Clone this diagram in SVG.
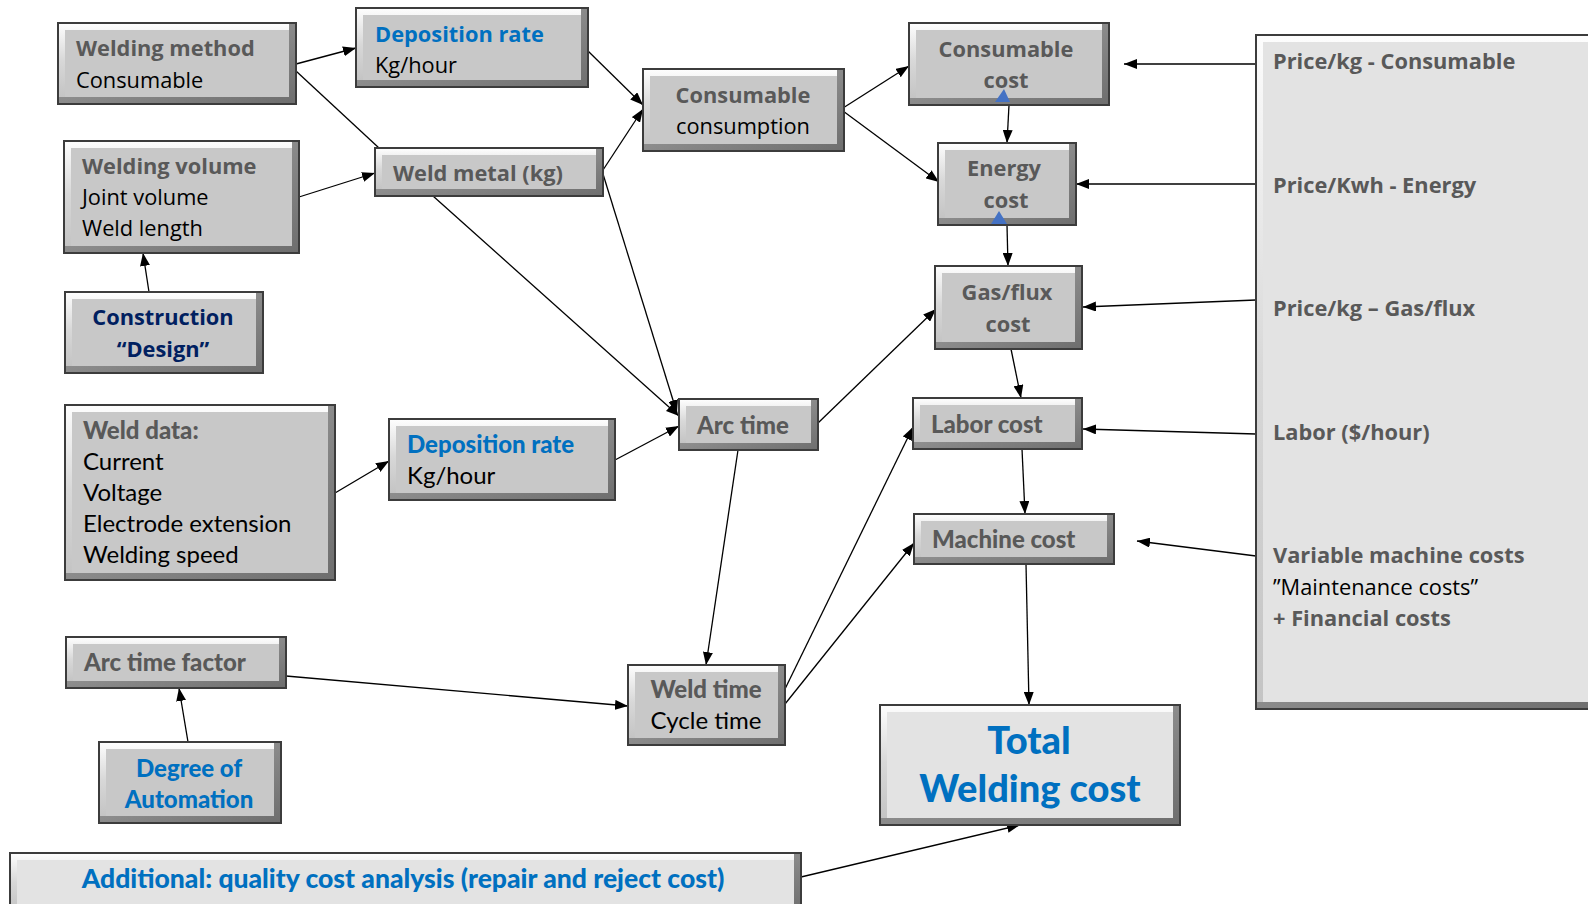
<svg xmlns="http://www.w3.org/2000/svg" width="1588" height="904" viewBox="0 0 1588 904">
<defs>
<style>
.o{fill:url(#gd);stroke:#3c3c3c;stroke-width:2}
.l{fill:url(#gl)}
.f{fill:#c8c8c8}
.fl{fill:#e3e3e3}
.os{font-family:"Open Sans","DejaVu Sans",sans-serif;font-size:21.8px}
.la{font-family:Lato,"Liberation Sans",sans-serif;font-size:24px}
.b{font-weight:bold;fill:#595959}
.la.b,.la.bl{font-weight:900}
.r{fill:#000}
.bl{font-weight:bold;fill:#0070c0}
.nv{font-weight:bold;fill:#002060}
.c{text-anchor:middle}
.cn line{stroke:#000;stroke-width:1.3;marker-end:url(#ah)}
.cn line.na{marker-end:none}
.tri{fill:#4472c4}
</style>
<linearGradient id="gl" x1="0" y1="0" x2="0" y2="1"><stop offset="0" stop-color="#fdfdfd"/><stop offset="0.5" stop-color="#d8d8d8"/><stop offset="1" stop-color="#c4c4c4"/></linearGradient>
<linearGradient id="gd" x1="0" y1="0" x2="1" y2="1"><stop offset="0" stop-color="#a8a8a8"/><stop offset="1" stop-color="#6e6e6e"/></linearGradient>
<marker id="ah" viewBox="0 0 13 10" refX="13" refY="5" markerWidth="13" markerHeight="10" markerUnits="userSpaceOnUse" orient="auto"><path d="M0,0 L13,5 L0,10 z" fill="#000"/></marker>
</defs>
<rect width="1588" height="904" fill="#fff"/>

<g id="connectors" class="cn">
<line x1="296" y1="64" x2="356" y2="48"/>
<line class="na" x1="296" y1="71" x2="379" y2="148"/>
<line x1="299" y1="197" x2="375" y2="173"/>
<line x1="588" y1="51" x2="643" y2="105"/>
<line x1="603" y1="170" x2="643" y2="109"/>
<line x1="433" y1="196" x2="679" y2="416"/>
<line x1="603" y1="174" x2="677" y2="413"/>
<line x1="615" y1="460" x2="679" y2="426"/>
<line x1="335" y1="493" x2="389" y2="461"/>
<line x1="149" y1="292" x2="143" y2="253"/>
<line x1="188" y1="742" x2="179" y2="688"/>
<line x1="286" y1="676" x2="628" y2="706"/>
<line x1="738" y1="450" x2="706" y2="665"/>
<line x1="818" y1="423" x2="936" y2="309"/>
<line x1="843" y1="108" x2="909" y2="66"/>
<line x1="843" y1="111" x2="939" y2="182"/>
<line x1="1009" y1="105" x2="1007" y2="143"/>
<line x1="1007" y1="225" x2="1008" y2="266"/>
<line x1="1011" y1="349" x2="1021" y2="398"/>
<line x1="1022" y1="449" x2="1025" y2="514"/>
<line x1="1026" y1="564" x2="1029" y2="705"/>
<line x1="785" y1="689" x2="913" y2="427"/>
<line x1="785" y1="704" x2="914" y2="543"/>
<line x1="801" y1="877" x2="1020" y2="825"/>
<line x1="1255" y1="64" x2="1124" y2="64"/>
<line x1="1255" y1="184" x2="1076" y2="184"/>
<line x1="1256" y1="300" x2="1083" y2="307"/>
<line x1="1256" y1="434" x2="1083" y2="429"/>
<line x1="1256" y1="556" x2="1137" y2="541"/>
</g>

<g id="n_weld_method"><rect class="o" x="58" y="23" width="238" height="81"/><rect class="l" x="59" y="24" width="230" height="73"/><rect class="f" x="65" y="30" width="224" height="67"/>
<text class="os b" x="76" y="56">Welding method</text><text class="os r" x="76" y="88">Consumable</text></g>

<g id="n_dep_top"><rect class="o" x="356" y="8" width="232" height="79"/><rect class="l" x="357" y="9" width="224" height="71"/><rect class="f" x="363" y="15" width="218" height="65"/>
<text class="os bl" x="375" y="42">Deposition rate</text><text class="os r" x="375" y="73">Kg/hour</text></g>

<g id="n_cons_cons"><rect class="o" x="643" y="69" width="201" height="82"/><rect class="l" x="644" y="70" width="193" height="74"/><rect class="f" x="650" y="76" width="187" height="68"/>
<text class="os b c" x="743" y="103">Consumable</text><text class="os r c" x="743" y="134">consumption</text></g>

<g id="n_cons_cost"><rect class="o" x="909" y="23" width="200" height="82"/><rect class="l" x="910" y="24" width="192" height="74"/><rect class="f" x="916" y="30" width="186" height="68"/>
<text class="os b c" x="1006" y="57">Consumable</text><text class="os b c" x="1006" y="88">cost</text>
<polygon class="tri" points="1004,89 995,102 1010,102"/></g>

<g id="n_energy"><rect class="o" x="938" y="143" width="138" height="82"/><rect class="l" x="939" y="144" width="130" height="74"/><rect class="f" x="945" y="150" width="124" height="68"/>
<text class="os b c" x="1004" y="176">Energy</text><text class="os b c" x="1006" y="208">cost</text>
<polygon class="tri" points="999,211 991,224 1007,224"/></g>

<g id="n_gas"><rect class="o" x="935" y="266" width="147" height="83"/><rect class="l" x="936" y="267" width="139" height="75"/><rect class="f" x="942" y="273" width="133" height="69"/>
<text class="os b c" x="1007" y="300">Gas/flux</text><text class="os b c" x="1008" y="332">cost</text></g>

<g id="n_labor"><rect class="o" x="913" y="398" width="169" height="51"/><rect class="l" x="914" y="399" width="161" height="43"/><rect class="f" x="920" y="405" width="155" height="37"/>
<text class="la b" x="931" y="433">Labor cost</text></g>

<g id="n_machine"><rect class="o" x="914" y="514" width="200" height="50"/><rect class="l" x="915" y="515" width="192" height="42"/><rect class="f" x="921" y="521" width="186" height="36"/>
<text class="la b" x="932" y="548">Machine cost</text></g>

<g id="n_total"><rect class="o" x="880" y="705" width="300" height="120"/><rect class="l" x="881" y="706" width="292" height="112"/><rect class="fl" x="887" y="712" width="286" height="106"/>
<text class="la bl c" x="1029" y="754" style="font-size:38px">Total</text><text class="la bl c" x="1030" y="802" style="font-size:38px">Welding cost</text></g>

<g id="n_price"><rect class="o" x="1256" y="35" width="350" height="674"/><rect class="l" x="1257" y="36" width="350" height="666"/><rect class="fl" x="1263" y="42" width="350" height="660"/>
<text class="os b" x="1273" y="69">Price/kg - Consumable</text>
<text class="os b" x="1273" y="193">Price/Kwh - Energy</text>
<text class="os b" x="1273" y="316">Price/kg – Gas/flux</text>
<text class="os b" x="1273" y="440">Labor ($/hour)</text>
<text class="os b" x="1273" y="563">Variable machine costs</text>
<text class="os r" x="1273" y="595">”Maintenance costs”</text>
<text class="os b" x="1273" y="626">+ Financial costs</text></g>

<g id="n_weld_vol"><rect class="o" x="64" y="141" width="235" height="112"/><rect class="l" x="65" y="142" width="227" height="104"/><rect class="f" x="71" y="148" width="221" height="98"/>
<text class="os b" x="82" y="174">Welding volume</text><text class="os r" x="82" y="205">Joint volume</text><text class="os r" x="82" y="236">Weld length</text></g>

<g id="n_weld_metal"><rect class="o" x="375" y="148" width="228" height="48"/><rect class="l" x="376" y="149" width="220" height="40"/><rect class="f" x="382" y="155" width="214" height="34"/>
<text class="os b" x="393" y="181">Weld metal (kg)</text></g>

<g id="n_construction"><rect class="o" x="65" y="292" width="198" height="81"/><rect class="l" x="66" y="293" width="190" height="73"/><rect class="f" x="72" y="299" width="184" height="67"/>
<text class="os nv c" x="163" y="325">Construction</text><text class="os nv c" x="163" y="357">“Design”</text></g>

<g id="n_weld_data"><rect class="o" x="65" y="405" width="270" height="175"/><rect class="l" x="66" y="406" width="262" height="167"/><rect class="f" x="72" y="412" width="256" height="161"/>
<text class="la b" x="83" y="439">Weld data:</text><text class="la r" x="83" y="470">Current</text><text class="la r" x="83" y="501">Voltage</text><text class="la r" x="83" y="532">Electrode extension</text><text class="la r" x="83" y="563">Welding speed</text></g>

<g id="n_dep_mid"><rect class="o" x="389" y="419" width="226" height="81"/><rect class="l" x="390" y="420" width="218" height="73"/><rect class="f" x="396" y="426" width="212" height="67"/>
<text class="la bl" x="407" y="453">Deposition rate</text><text class="la r" x="407" y="484">Kg/hour</text></g>

<g id="n_arc"><rect class="o" x="679" y="399" width="139" height="51"/><rect class="l" x="680" y="400" width="131" height="43"/><rect class="f" x="686" y="406" width="125" height="37"/>
<text class="la b" x="697" y="434">Arc time</text></g>

<g id="n_arc_factor"><rect class="o" x="66" y="637" width="220" height="51"/><rect class="l" x="67" y="638" width="212" height="43"/><rect class="f" x="73" y="644" width="206" height="37"/>
<text class="la b" x="84" y="671">Arc time factor</text></g>

<g id="n_degree"><rect class="o" x="99" y="742" width="182" height="81"/><rect class="l" x="100" y="743" width="174" height="73"/><rect class="f" x="106" y="749" width="168" height="67"/>
<text class="la bl c" x="189" y="777">Degree of</text><text class="la bl c" x="189" y="808">Automation</text></g>

<g id="n_weld_time"><rect class="o" x="628" y="665" width="157" height="80"/><rect class="l" x="629" y="666" width="149" height="72"/><rect class="f" x="635" y="672" width="143" height="66"/>
<text class="la b c" x="706" y="698">Weld time</text><text class="la r c" x="706" y="729">Cycle time</text></g>

<g id="n_additional"><rect class="o" x="10" y="853" width="791" height="60"/><rect class="l" x="11" y="854" width="783" height="56"/><rect class="fl" x="17" y="860" width="777" height="50"/>
<text class="la bl c" x="403" y="888" style="font-size:26.5px">Additional: quality cost analysis (repair and reject cost)</text></g>
</svg>
